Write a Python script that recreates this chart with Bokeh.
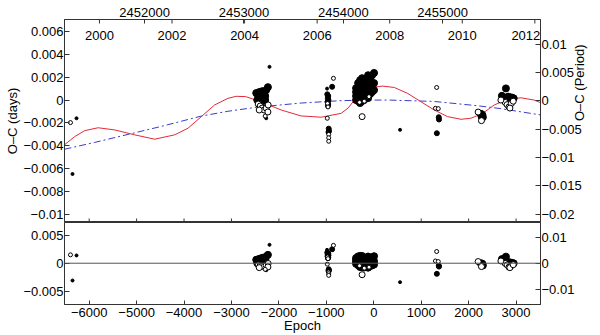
import math
from bokeh.plotting import figure
from bokeh.models import (Range1d, LinearAxis, FixedTicker, CustomJSTickFormatter,
                          Span, ColumnDataSource)
from bokeh.layouts import column
from bokeh.embed import file_html
from bokeh.resources import INLINE
from bokeh.core.properties import value

# ---------------- data ----------------
epoch_ticks = [-6000, -5000, -4000, -3000, -2000, -1000, 0, 1000, 2000, 3000]
jd_ticks = [2452000, 2453000, 2454000, 2455000]
year_ticks = [2000, 2002, 2004, 2006, 2008, 2010, 2012]
top_left_ticks = [0.006, 0.004, 0.002, 0.0, -0.002, -0.004, -0.006, -0.008, -0.01]
top_right_ticks = [0.01, 0.005, 0.0, -0.005, -0.01, -0.015, -0.02]
bot_left_ticks = [0.005, 0.0, -0.005]
bot_right_ticks = [0.01, 0.0, -0.01]

# LiTE fit (red)
fit_epoch = [-6520, -6303, -6093, -5811, -5461, -5040, -4619, -4198, -3916, -3636,
             -3356, -3074, -2900, -2700, -2373, -1952, -1531, -1284, -1109, -688,
             -541, -408, -232, -57, 189, 434, 716, 996, 1276, 1558,
             1838, 2048, 2295, 2539, 2821, 3101, 3381, 3515]
fit_oc = [-0.00391, -0.00319, -0.00267, -0.00242, -0.00261, -0.00304, -0.00342, -0.00304, -0.00246, -0.00145,
          -0.00043, 0.00015, 0.00033, 0.00030, -0.00015, -0.00087, -0.00139, -0.00145, -0.00150, -0.00116,
          -0.00070, 0.0, 0.00072, 0.00110, 0.00122, 0.00110, 0.00058, -0.00015, -0.00087, -0.00145,
          -0.00168, -0.00159, -0.00116, -0.00043, 0.00006, 0.00020, 0.0, -0.00023]

# quadratic ephemeris (blue dash-dot)
quad_epoch = [-6520, -5882, -5179, -4478, -3636, -3074, -2442, -1531, -688, 0, 322, 1269, 2196, 2680, 3515]
quad_oc = [-0.0043, -0.0037, -0.0030, -0.0023, -0.0014, -0.00098, -0.00061, -0.00026, -0.00005, 0.0,
           0.0, -0.00012, -0.0005, -0.00075, -0.0013]

# large filled circles: epoch, O-C, residual
big_e = [-2478, -2436, -2415, -2373, -2352, -2331, -2310, -2289, -2268, -2232, -2394, -2331, -2457, -2289,
         -373, -373, -373, -373, -330, -330, -330, -330, -288, -288, -288, -288, -288,
         -246, -246, -246, -246, -204, -204, -204, -162, -162, -162,
         -120, -120, -120, -120, -78, -78, -78, -36, -36, -36, 6, 6, 6,
         2260, 2290, 2280, 2300, 2270,
         2786, 2702, 2750, 2830, 2880, 2920, 2950, 2800]
big_oc = [0.00061, 0.00035, 0.0007, 0.00043, 0.00078, 0.00017, 0.00061, 0.00035, 0.00087, 0.00113, 0.00009, -0.00009, 0.0, 0.0,
          0.00104, 0.0007, 0.00035, 0.0, 0.00148, 0.00087, 0.00043, -0.00009, 0.00174, 0.00122, 0.0007, 0.00017, -0.00026,
          0.00191, 0.00104, 0.00043, -0.00009, 0.00148, 0.0007, 0.0, 0.00174, 0.00122, 0.00035,
          0.00217, 0.00148, 0.00087, 0.00017, 0.00191, 0.00122, 0.00052, 0.00217, 0.00148, 0.0007, 0.00237, 0.00148, 0.00087,
          -0.0012, -0.0013, -0.00145, -0.0015, -0.0014,
          0.00102, 0.00037, 0.0002, 0.0003, 0.00025, 0.0002, 0.00015, 0.0]
big_res = [0.00062, 0.0004, 0.00078, 0.00058, 0.00098, 0.00041, 0.00089, 0.00066, 0.0012, 0.0015, 0.0002, 0.00015, 0.00003, 0.00031,
           0.00094, 0.0006, 0.00025, -0.0001, 0.00122, 0.00061, 0.00017, -0.00035, 0.00131, 0.00079, 0.00027, -0.00026, -0.00069,
           0.0013, 0.00043, -0.00018, -0.0007, 0.0007, -0.00008, -0.00078, 0.00085, 0.00033, -0.00054,
           0.0012, 0.00051, -0.0001, -0.0008, 0.00087, 0.00018, -0.00052, 0.00108, 0.00039, -0.00039, 0.00126, 0.00037, -0.00024,
           0.0, -0.0001, -0.0002, -0.0004, -0.00025,
           0.00118, 0.00074, 0.00042, 0.00023, 0.00014, 0.00005, -0.00002, 0.00005]

# medium filled circles
med_e = [-2247, -980, -960, -970, -955, -975, -960, -965, -878, -950, -945, -955, 1370, 1375, 1330]
med_oc = [0.00096, 0.0005, 0.00035, 0.00017, 0.0, -0.00017, -0.00035, -0.0005, 0.00116, -0.0025, -0.0027, -0.0028,
          -0.0015, -0.0017, -0.0029]
med_res = [0.00132, 0.0019, 0.00177, 0.00159, 0.00142, 0.00125, 0.00107, 0.0009, 0.0025, -0.00108, -0.00128, -0.00138,
           -0.00045, -0.0006, -0.0019]

# small filled dots
dot_e = [-6267, -6351, -2198, -2268, -985, 554]
dot_oc = [-0.00159, -0.00646, 0.0029, -0.00159, 0.001, -0.0026]
dot_res = [0.0014, -0.0031, 0.0033, -0.00126, 0.0024, -0.0034]

# open circles
open_e = [-2436, -2394, -2352, -2310, -2268, -2226, -2232, -2415, -246, 2200, 2270,
          2770, 2810, 2850, 2900, 2870, 2940, 2680]
open_oc = [-0.00035, -0.00052, -0.0007, -0.00087, -0.0007, -0.00043, -0.00104, -0.00087, -0.00145, -0.00105, -0.0018,
           -0.0002, -0.0004, -0.0006, -0.0003, -0.0007, -0.0001, 0.0]
open_res = [-0.0003, -0.00041, -0.0005, -0.00059, -0.00037, -0.00005, -0.00067, -0.00079, -0.00206, 0.0003, -0.0006,
            -0.00002, -0.0003, -0.0007, -0.00045, -0.0008, -0.00027, 0.0004]

# small open circles
sopen_e = [-6394, -2289, -850, -980, -950, -950, -950, -975, -965, 1326, 1300, 1360, -100, -200, -300]
sopen_oc = [-0.00197, -0.0014, 0.0019, -0.00159, -0.003, -0.0033, -0.0036, -0.0003, -0.0006, 0.0011, -0.00072,
            -0.00075, 0.0003, -0.0001, -0.0002]
sopen_res = [0.0015, -0.0011, 0.0032, -0.00017, -0.00158, -0.00188, -0.00218, 0.00112, 0.00082, 0.0021, 0.0004,
             0.0003, -0.0007, -0.00088, -0.00046]

# ---------------- styling ----------------
FONT = "Liberation Sans"
FS = "13px"
AX = "#333333"
W = 600
LB, RB = 64, 60
JD_2000 = 2451545.0
YEAR_LEN = 365.25
YEAR_LABEL_Y = 0.00564
year_label_shift = [0, 0, 0, 0, 0, 0, -9]

X0, X1 = -6520, 3515
Y0, Y1 = -0.0107, 0.00704
P0, P1 = -0.0215, 0.0144

num_fmt = CustomJSTickFormatter(code="""
if (Math.abs(tick) < 1e-12) { return "0"; }
var s = String(Math.round(tick * 1e6) / 1e6);
return s.replace("-", "\u2212");
""")
jd_fmt = CustomJSTickFormatter(code="return tick.toFixed(0);")


def style_axis(ax):
    ax.major_tick_in = 5
    ax.major_tick_out = 0
    ax.minor_tick_in = 0
    ax.minor_tick_out = 0
    ax.axis_line_color = AX
    ax.major_tick_line_color = AX
    ax.major_label_text_font = FONT
    ax.major_label_text_font_size = FS
    ax.major_label_text_color = "black"
    ax.major_label_standoff = 2
    ax.axis_label_text_font = FONT
    ax.axis_label_text_font_size = FS
    ax.axis_label_text_font_style = "normal"
    ax.axis_label_text_color = "black"
    ax.axis_label_standoff = 3


xr = Range1d(X0, X1)

# ---------------- top panel ----------------
p1 = figure(width=W, height=222, x_range=xr, y_range=Range1d(Y0, Y1),
            output_backend="svg", toolbar_location=None,
            x_axis_location=None, y_axis_location=None,
            min_border_left=LB, min_border_right=RB, min_border_top=19, min_border_bottom=0)
p1.extra_x_ranges = {"jd": Range1d(2451193, 2455985)}
p1.extra_y_ranges = {"per": Range1d(P0, P1)}
p1.grid.visible = False
p1.outline_line_color = AX
p1.background_fill_color = "white"
p1.border_fill_color = "white"

ax = LinearAxis(ticker=FixedTicker(ticks=top_left_ticks), formatter=num_fmt, axis_label="O\u2013C (days)")
style_axis(ax)
ax.major_label_standoff = 1
ax.axis_label_standoff = 0
p1.add_layout(ax, "left")

ax = LinearAxis(y_range_name="per", ticker=FixedTicker(ticks=top_right_ticks), formatter=num_fmt)
style_axis(ax)
ax.major_label_standoff = 1
p1.add_layout(ax, "right")

# right-hand axis title, reading bottom-to-top like the reference
lab = LinearAxis(y_range_name="per", ticker=FixedTicker(ticks=[(P0 + P1) / 2]),
                 formatter=CustomJSTickFormatter(code='return "O\u2013C (Period)";'))
style_axis(lab)
lab.major_tick_in = 0
lab.axis_line_color = None
lab.major_label_standoff = -5
lab.major_label_orientation = math.pi / 2
p1.add_layout(lab, "right")

ax = LinearAxis(x_range_name="jd", ticker=FixedTicker(ticks=jd_ticks), formatter=jd_fmt)
style_axis(ax)
ax.major_tick_in = 4
ax.major_label_standoff = 3
p1.add_layout(ax, "above")

year_jd = [JD_2000 + (y - 2000) * YEAR_LEN for y in year_ticks]
# inward tick marks for the years (top edge) and epochs (bottom edge of the upper panel)
p1.scatter(year_jd, [Y1] * len(year_jd), x_range_name="jd", marker="dash", angle=math.pi / 2,
           size=8, line_color=AX, line_width=1)
p1.scatter(epoch_ticks, [Y0] * len(epoch_ticks), marker="dash", angle=math.pi / 2,
           size=8, line_color=AX, line_width=1)

ysrc = ColumnDataSource(dict(x=year_jd, y=[YEAR_LABEL_Y] * len(year_ticks),
                             t=[str(y) for y in year_ticks], dx=year_label_shift))
p1.text(x="x", y="y", text="t", source=ysrc, x_range_name="jd", x_offset="dx", text_align="center",
        text_baseline="middle", text_font=value(FONT), text_font_size=FS, text_color="black")

p1.line(quad_epoch, quad_oc, line_color="#3b3bcc", line_width=1, line_dash="7 3 2 3")
p1.line(fit_epoch, fit_oc, line_color="#e3293a", line_width=1)

p1.scatter(big_e, big_oc, size=7, fill_color="black", line_color="black")
p1.scatter(med_e, med_oc, size=5, fill_color="black", line_color="black")
p1.scatter(dot_e, dot_oc, size=3, fill_color="black", line_color="black")
p1.scatter(open_e, open_oc, size=6, fill_color="white", line_color="black", line_width=1)
p1.scatter(sopen_e, sopen_oc, size=4, fill_color="white", line_color="black", line_width=1)

# ---------------- bottom panel ----------------
p2 = figure(width=W, height=113, x_range=xr, y_range=Range1d(-0.0074, 0.0073),
            output_backend="svg", toolbar_location=None,
            x_axis_location=None, y_axis_location=None,
            min_border_left=LB, min_border_right=RB, min_border_top=0, min_border_bottom=0)
p2.extra_y_ranges = {"per": Range1d(-0.0158, 0.0156)}
p2.grid.visible = False
p2.outline_line_color = AX
p2.border_fill_color = "white"

ax = LinearAxis(ticker=FixedTicker(ticks=bot_left_ticks), formatter=num_fmt)
style_axis(ax)
ax.major_label_standoff = 1
p2.add_layout(ax, "left")

ax = LinearAxis(y_range_name="per", ticker=FixedTicker(ticks=bot_right_ticks), formatter=num_fmt)
style_axis(ax)
ax.major_label_standoff = 1
p2.add_layout(ax, "right")

ax = LinearAxis(ticker=FixedTicker(ticks=epoch_ticks), formatter=num_fmt, axis_label="Epoch")
style_axis(ax)
ax.major_tick_in = 4
ax.major_label_standoff = 3
ax.axis_label_standoff = -2
p2.add_layout(ax, "below")

p2.add_layout(Span(location=0, dimension="width", line_color="#555555", line_width=1))

p2.scatter(big_e, big_res, size=7, fill_color="black", line_color="black")
p2.scatter(med_e, med_res, size=5, fill_color="black", line_color="black")
p2.scatter(dot_e, dot_res, size=3, fill_color="black", line_color="black")
p2.scatter(open_e, open_res, size=6, fill_color="white", line_color="black", line_width=1)
p2.scatter(sopen_e, sopen_res, size=4, fill_color="white", line_color="black", line_width=1)

layout = column(p1, p2, spacing=0)
open("out.html", "w").write(file_html(layout, INLINE))
